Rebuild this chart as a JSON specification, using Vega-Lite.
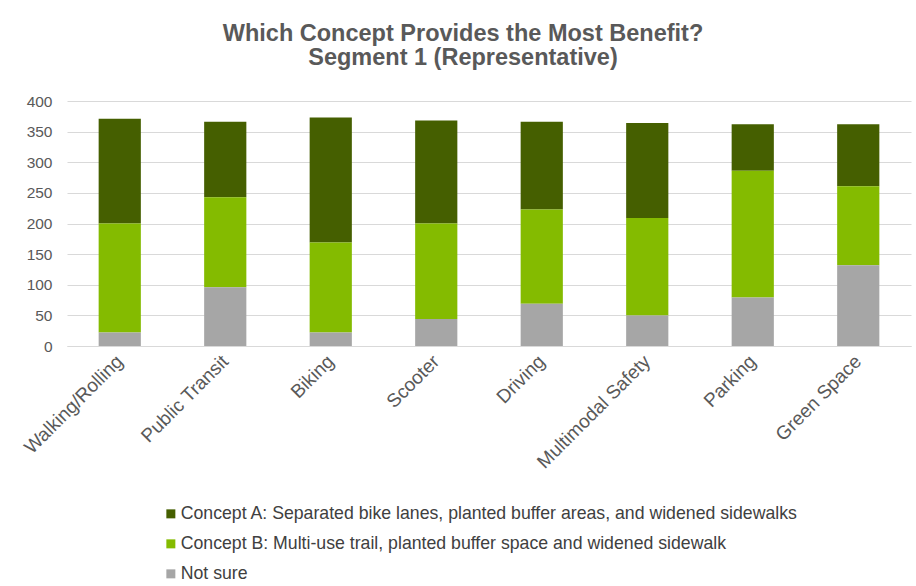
{
  "$schema": "https://vega.github.io/schema/vega-lite/v6.json",
  "width": 844,
  "height": 245,
  "autosize": "none",
  "padding": {"left": 67, "top": 101, "right": 5, "bottom": 240},
  "background": "white",
  "config": {
    "font": "Liberation Sans",
    "view": {"stroke": null}
  },
  "title": {
    "text": ["Which Concept Provides the Most Benefit?", "Segment 1 (Representative)"],
    "fontSize": 23.5,
    "fontWeight": "bold",
    "font": "Liberation Sans",
    "color": "#595959",
    "anchor": "middle",
    "dx": -26,
    "offset": 25,
    "lineHeight": 24
  },
  "data": {
    "values": [
      {"category": "Walking/Rolling", "concept": "Concept A: Separated bike lanes, planted buffer areas, and widened sidewalks", "value": 171},
      {"category": "Walking/Rolling", "concept": "Concept B: Multi-use trail, planted buffer space and widened sidewalk", "value": 178},
      {"category": "Walking/Rolling", "concept": "Not sure", "value": 22},
      {"category": "Public Transit", "concept": "Concept A: Separated bike lanes, planted buffer areas, and widened sidewalks", "value": 123},
      {"category": "Public Transit", "concept": "Concept B: Multi-use trail, planted buffer space and widened sidewalk", "value": 147},
      {"category": "Public Transit", "concept": "Not sure", "value": 96},
      {"category": "Biking", "concept": "Concept A: Separated bike lanes, planted buffer areas, and widened sidewalks", "value": 204},
      {"category": "Biking", "concept": "Concept B: Multi-use trail, planted buffer space and widened sidewalk", "value": 147},
      {"category": "Biking", "concept": "Not sure", "value": 22},
      {"category": "Scooter", "concept": "Concept A: Separated bike lanes, planted buffer areas, and widened sidewalks", "value": 168},
      {"category": "Scooter", "concept": "Concept B: Multi-use trail, planted buffer space and widened sidewalk", "value": 156},
      {"category": "Scooter", "concept": "Not sure", "value": 44},
      {"category": "Driving", "concept": "Concept A: Separated bike lanes, planted buffer areas, and widened sidewalks", "value": 143},
      {"category": "Driving", "concept": "Concept B: Multi-use trail, planted buffer space and widened sidewalk", "value": 154},
      {"category": "Driving", "concept": "Not sure", "value": 69},
      {"category": "Multimodal Safety", "concept": "Concept A: Separated bike lanes, planted buffer areas, and widened sidewalks", "value": 155},
      {"category": "Multimodal Safety", "concept": "Concept B: Multi-use trail, planted buffer space and widened sidewalk", "value": 159},
      {"category": "Multimodal Safety", "concept": "Not sure", "value": 50},
      {"category": "Parking", "concept": "Concept A: Separated bike lanes, planted buffer areas, and widened sidewalks", "value": 76},
      {"category": "Parking", "concept": "Concept B: Multi-use trail, planted buffer space and widened sidewalk", "value": 207},
      {"category": "Parking", "concept": "Not sure", "value": 79},
      {"category": "Green Space", "concept": "Concept A: Separated bike lanes, planted buffer areas, and widened sidewalks", "value": 101},
      {"category": "Green Space", "concept": "Concept B: Multi-use trail, planted buffer space and widened sidewalk", "value": 129},
      {"category": "Green Space", "concept": "Not sure", "value": 132}
    ]
  },
  "mark": {"type": "bar"},
  "encoding": {
    "x": {
      "field": "category",
      "type": "nominal",
      "sort": null,
      "scale": {"paddingInner": 0.6, "paddingOuter": 0.3},
      "axis": {
        "title": null,
        "labelAngle": -45,
        "labelAlign": "right",
        "labelBaseline": "middle",
        "labelPadding": 12,
        "labelFontSize": 19,
        "labelColor": "#595959",
        "labelFont": "Liberation Sans",
        "ticks": false,
        "domainColor": "#D9D9D9",
        "domainWidth": 1
      }
    },
    "y": {
      "field": "value",
      "type": "quantitative",
      "aggregate": "sum",
      "stack": "zero",
      "scale": {"domain": [0, 400]},
      "axis": {
        "title": null,
        "values": [0, 50, 100, 150, 200, 250, 300, 350, 400],
        "ticks": false,
        "domain": false,
        "labelFontSize": 15.5,
        "labelColor": "#595959",
        "labelPadding": 15,
        "gridColor": "#D9D9D9",
        "gridWidth": 1
      }
    },
    "color": {
      "field": "concept",
      "type": "nominal",
      "scale": {
        "domain": [
          "Concept A: Separated bike lanes, planted buffer areas, and widened sidewalks",
          "Concept B: Multi-use trail, planted buffer space and widened sidewalk",
          "Not sure"
        ],
        "range": ["#455F00", "#84BB00", "#A6A6A6"]
      },
      "legend": {
        "title": null,
        "orient": "none",
        "legendX": 95,
        "legendY": 404,
        "direction": "vertical",
        "symbolType": "square",
        "symbolSize": 81,
        "symbolStrokeWidth": 0,
        "labelFontSize": 17.7,
        "labelColor": "#404040",
        "labelFont": "Liberation Sans",
        "labelLimit": 800,
        "labelOffset": 1,
        "rowPadding": 11,
        "padding": 0
      }
    },
    "order": {"field": "concept", "sort": "descending"}
  }
}
